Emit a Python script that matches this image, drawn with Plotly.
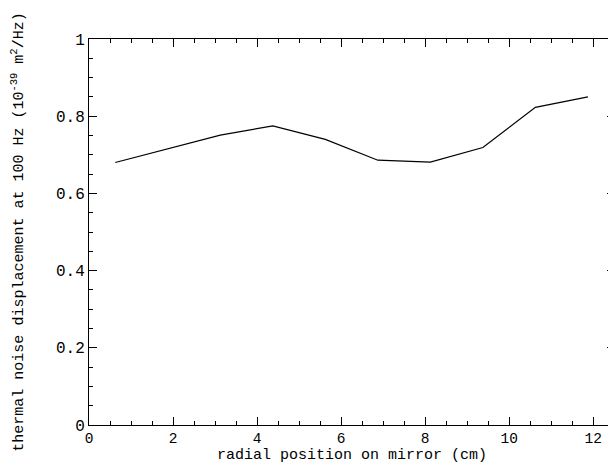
import plotly.graph_objects as go

radius_cm = [0.625, 3.125, 4.375, 5.625, 6.875, 8.125, 9.375, 10.625, 11.875]
noise = [0.680, 0.751, 0.775, 0.740, 0.686, 0.681, 0.719, 0.823, 0.850]
x_ticks = [0, 2, 4, 6, 8, 10, 12]
y_ticks = [0, 0.2, 0.4, 0.6, 0.8, 1]
y_tick_labels = ["0", "0.2", "0.4", "0.6", "0.8", "1"]
x_title = "radial position on mirror (cm)"
y_title = "thermal noise displacement at 100 Hz (10<sup>-39</sup> m<sup>2</sup>/Hz)"

FONT = "Liberation Mono"

fig = go.Figure()
fig.add_trace(go.Scatter(x=radius_cm, y=noise, mode="lines",
                         line=dict(color="black", width=1.2), showlegend=False))

axis_common = dict(showline=True, linecolor="black", linewidth=1, mirror="allticks",
                   ticks="inside", ticklen=8, tickwidth=1, tickcolor="black",
                   showgrid=False, zeroline=False)

fig.update_xaxes(range=[0, 12.52], tickvals=x_ticks, ticktext=[str(v) for v in x_ticks],
                 minor=dict(dtick=0.5, ticks="inside", ticklen=4, tickcolor="black"),
                 tickfont=dict(family=FONT, size=14.5, color="black"),
                 **axis_common)
fig.update_yaxes(range=[0, 1], tickvals=y_ticks, ticktext=y_tick_labels,
                 minor=dict(dtick=0.05, ticks="inside", ticklen=4, tickcolor="black"),
                 tickfont=dict(family=FONT, size=16, color="black"),
                 title=dict(text=y_title,
                            font=dict(family=FONT, size=15, color="black"), standoff=28),
                 **axis_common)

fig.add_annotation(text=x_title, xref="paper", yref="paper", x=0.5, y=0,
                   xanchor="center", yanchor="top", yshift=-21, showarrow=False,
                   borderpad=0, font=dict(family=FONT, size=15, color="black"))

# page body has an 8px margin; size/margins chosen so the plot box lands at 89..615 x 39..425
fig.update_layout(width=608, height=457, plot_bgcolor="white", paper_bgcolor="white",
                  margin=dict(l=81, r=1, t=31, b=40))

fig.write_html("out.html")
